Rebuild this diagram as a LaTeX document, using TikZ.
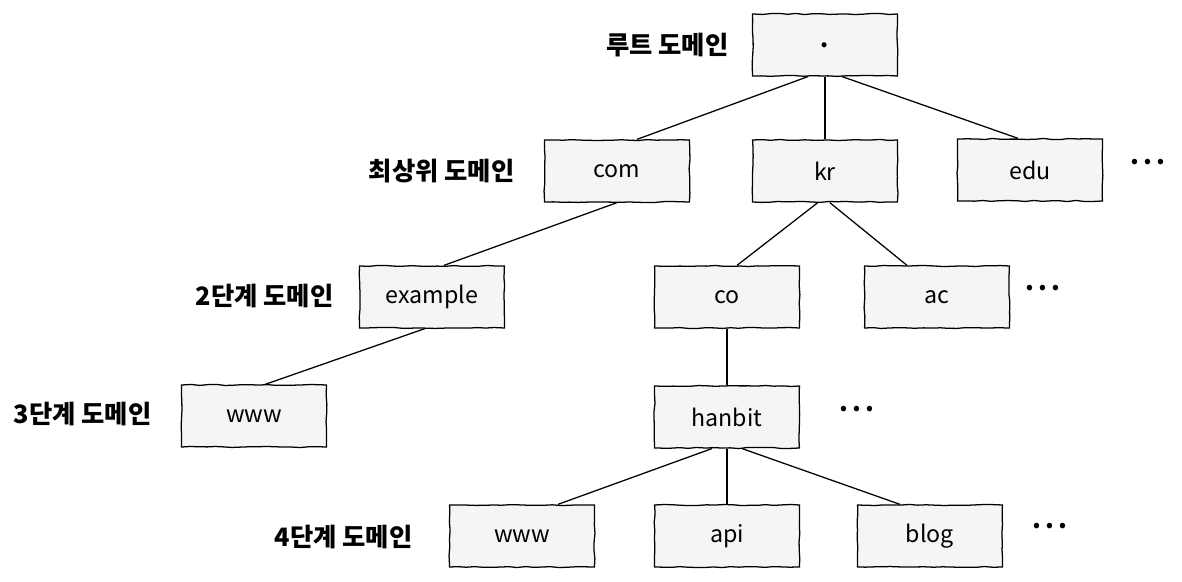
\documentclass[tikz,border=0pt]{standalone}
\usepackage{fontspec}
\setmainfont{Noto Sans CJK KR}
\usepackage{tikz}
\usetikzlibrary{positioning,calc,decorations.pathmorphing}
\definecolor{boxgray}{HTML}{F5F5F5}

\begin{document}
\pgfmathsetseed{7}
\begin{tikzpicture}[
  x=0.025cm,y=-0.025cm,
  font=\fontsize{16.5}{18}\selectfont,
  line width=0.9pt,
  dom/.style={draw,fill=boxgray,minimum width=3.62cm,minimum height=1.55cm,inner sep=0pt,
    decorate,decoration={random steps,segment length=6pt,amplitude=0.4pt}},
  lvl/.style={anchor=east,inner sep=0pt,font=\fontsize{18}{20}\selectfont\bfseries},
  more/.style={font=\fontsize{18}{20}\selectfont\bfseries}
]
\useasboundingbox (0,0) rectangle (1182,582);
% levels
\node[lvl] (l0) at (729,45) {루트 도메인};
\node[lvl] (l1) at (515,171) {최상위 도메인};
\node[lvl] (l2) at (334,296) {2단계 도메인};
\node[lvl] (l3) at (152,414) {3단계 도메인};
\node[lvl] (l4) at (413,537) {4단계 도메인};
% domains
\node[dom] (root) at (825,45) {\textbf{.}};
\node[dom] (com) at (617,171) {com};
\node[dom] (kr) at (825,171) {kr};
\node[dom] (edu) at (1030,170) {edu};
\node[dom] (example) at (432,297) {example};
\node[dom] (co) at (727,297) {co};
\node[dom] (ac) at (937,297) {ac};
\node[dom] (www3) at (254,416) {www};
\node[dom] (hanbit) at (727,417) {hanbit};
\node[dom] (www4) at (522,536) {www};
\node[dom] (api) at (727,536) {api};
\node[dom] (blog) at (930,536) {blog};
% more
\node[more] (m1) at (1148,162) {.\,.\,.};
\node[more] (m2) at (1043,288) {.\,.\,.};
\node[more] (m3) at (857,409) {.\,.\,.};
\node[more] (m4) at (1050,526) {.\,.\,.};
% links
\draw ([xshift=-0.43cm]root.south) -- ([xshift=0.5cm]com.north);
\draw (root.south) -- (kr.north);
\draw ([xshift=0.43cm]root.south) -- ([xshift=-0.3cm]edu.north);
\draw (com.south) -- ([xshift=0.3cm]example.north);
\draw ([xshift=-0.18cm]kr.south) -- ([xshift=0.25cm]co.north);
\draw ([xshift=0.12cm]kr.south) -- ([xshift=-0.75cm]ac.north);
\draw ([xshift=-0.18cm]example.south) -- ([xshift=0.28cm]www3.north);
\draw (co.south) -- (hanbit.north);
\draw ([xshift=-0.38cm]hanbit.south) -- ([xshift=0.9cm]www4.north);
\draw (hanbit.south) -- (api.north);
\draw ([xshift=0.38cm]hanbit.south) -- ([xshift=-0.75cm]blog.north);
\end{tikzpicture}
\end{document}
